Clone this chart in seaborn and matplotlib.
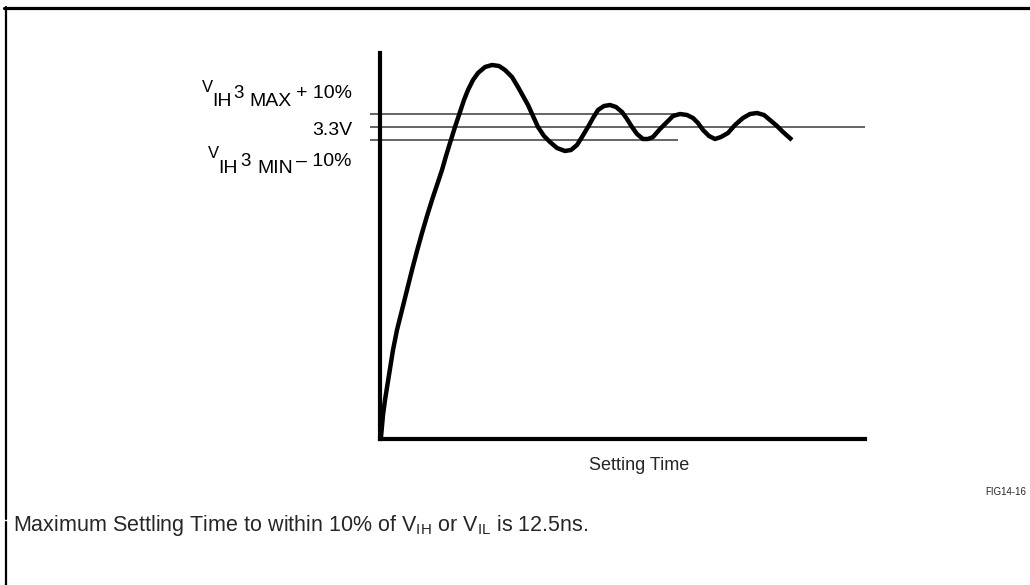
import numpy as np
import pandas as pd
import matplotlib
matplotlib.use('Agg')
import matplotlib.pyplot as plt
import seaborn as sns
from matplotlib.lines import Line2D

sns.set_style('white')
plt.rcParams['font.family'] = ['Liberation Sans', 'DejaVu Sans']
plt.rcParams['mathtext.fontset'] = 'custom'
plt.rcParams['mathtext.rm'] = 'Liberation Sans'
plt.rcParams['mathtext.it'] = 'Liberation Sans'

# signal (arbitrary units: time vs level)
time = [1, 3, 5, 9, 13, 17, 22, 27, 32, 37, 42, 47, 52, 57, 62, 66, 70, 75,
        80, 84, 88, 93, 98, 105, 112, 119, 125, 132, 138, 143, 148, 153, 158,
        164, 170, 177, 185, 191, 197, 202, 208, 213, 218, 224, 230, 236, 242,
        247, 252, 257, 263, 268, 273, 280, 287, 293, 300, 307, 313, 318, 323,
        329, 335, 341, 348, 355, 363, 370, 377, 384, 390, 397, 403, 412]
level = [2, 24, 39, 64, 89, 109, 129, 149, 169, 188, 206, 223, 239, 254, 269,
         283, 296, 312, 327, 339, 349, 359, 366, 372, 374, 373, 369, 362, 352,
         343, 334, 323, 312, 303, 297, 291, 288, 289, 294, 302, 312, 321, 329,
         333, 334, 332, 327, 320, 312, 305, 300, 300, 302, 310, 317, 323, 325,
         324, 321, 316, 309, 303, 300, 302, 306, 314, 321, 325, 326, 324, 319,
         313, 307, 299]

# reference levels: (level, end of line)
ref_levels = [325, 312, 299]
ref_ends = [298, 485, 298]
ref_start = -10

W, H = 1030, 585


def fx(px):
    return px / W


def fy(py):
    return 1 - py / H


fig = plt.figure(figsize=(10.3, 5.85), dpi=100)
ax = fig.add_axes([fx(380), fy(439), (865 - 380) / W, (439 - 53) / H])

df = pd.DataFrame({'time': time, 'level': level})
sns.lineplot(data=df, x='time', y='level', ax=ax, color='black', lw=3.2,
             sort=False, estimator=None, solid_capstyle='butt',
             solid_joinstyle='round')

for lv, end in zip(ref_levels, ref_ends):
    ax.hlines(lv, ref_start, end, color='#3a3a3a', lw=1.1, clip_on=False, zorder=1)

ax.set_xlim(0, 485)
ax.set_ylim(0, 386)
ax.set_xticks([])
ax.set_yticks([])
ax.set_xlabel('')
ax.set_ylabel('')
sns.despine(ax=ax)
for s in ['left', 'bottom']:
    ax.spines[s].set_linewidth(3)
    ax.spines[s].set_color('black')


# level labels, built piece by piece like the original typesetting
def piece(x, y, s, size, ha='left'):
    fig.text(fx(x), fy(y), s, fontsize=size, ha=ha, va='baseline', color='black')


piece(202, 92, 'V', 12)
piece(212, 106, 'IH', 14)
piece(233, 98, '3', 13.5)
piece(249, 106, 'MAX', 14)
piece(352, 98, '+ 10%', 14, ha='right')

piece(352, 135, '3.3V', 14, ha='right')

piece(208, 158, 'V', 12)
piece(218, 173, 'IH', 14)
piece(240, 166, '3', 13.5)
piece(257, 173, 'MIN', 14)
piece(352, 166, '\u2013 10%', 14, ha='right')

fig.text(fx(639), fy(465), 'Setting Time', fontsize=13, ha='center', va='center')
fig.text(fx(1026), fy(492), 'FIG14-16', fontsize=7, ha='right', va='center')
fig.text(fx(13), fy(525),
         r'Maximum Settling Time to within 10% of V$_{\mathrm{IH}}$ or V$_{\mathrm{IL}}$ is 12.5ns.',
         fontsize=15.5, ha='left', va='center')

# page frame
fig.add_artist(Line2D([fx(4), 1], [fy(7.5), fy(7.5)], color='black', lw=2.3,
                      transform=fig.transFigure))
fig.add_artist(Line2D([fx(5.5), fx(5.5)], [fy(7), fy(519)], color='black', lw=1.6,
                      transform=fig.transFigure))
fig.add_artist(Line2D([fx(5.5), fx(5.5)], [fy(522), 0], color='black', lw=1.6,
                      transform=fig.transFigure))

fig.savefig('out.png', dpi=100)
